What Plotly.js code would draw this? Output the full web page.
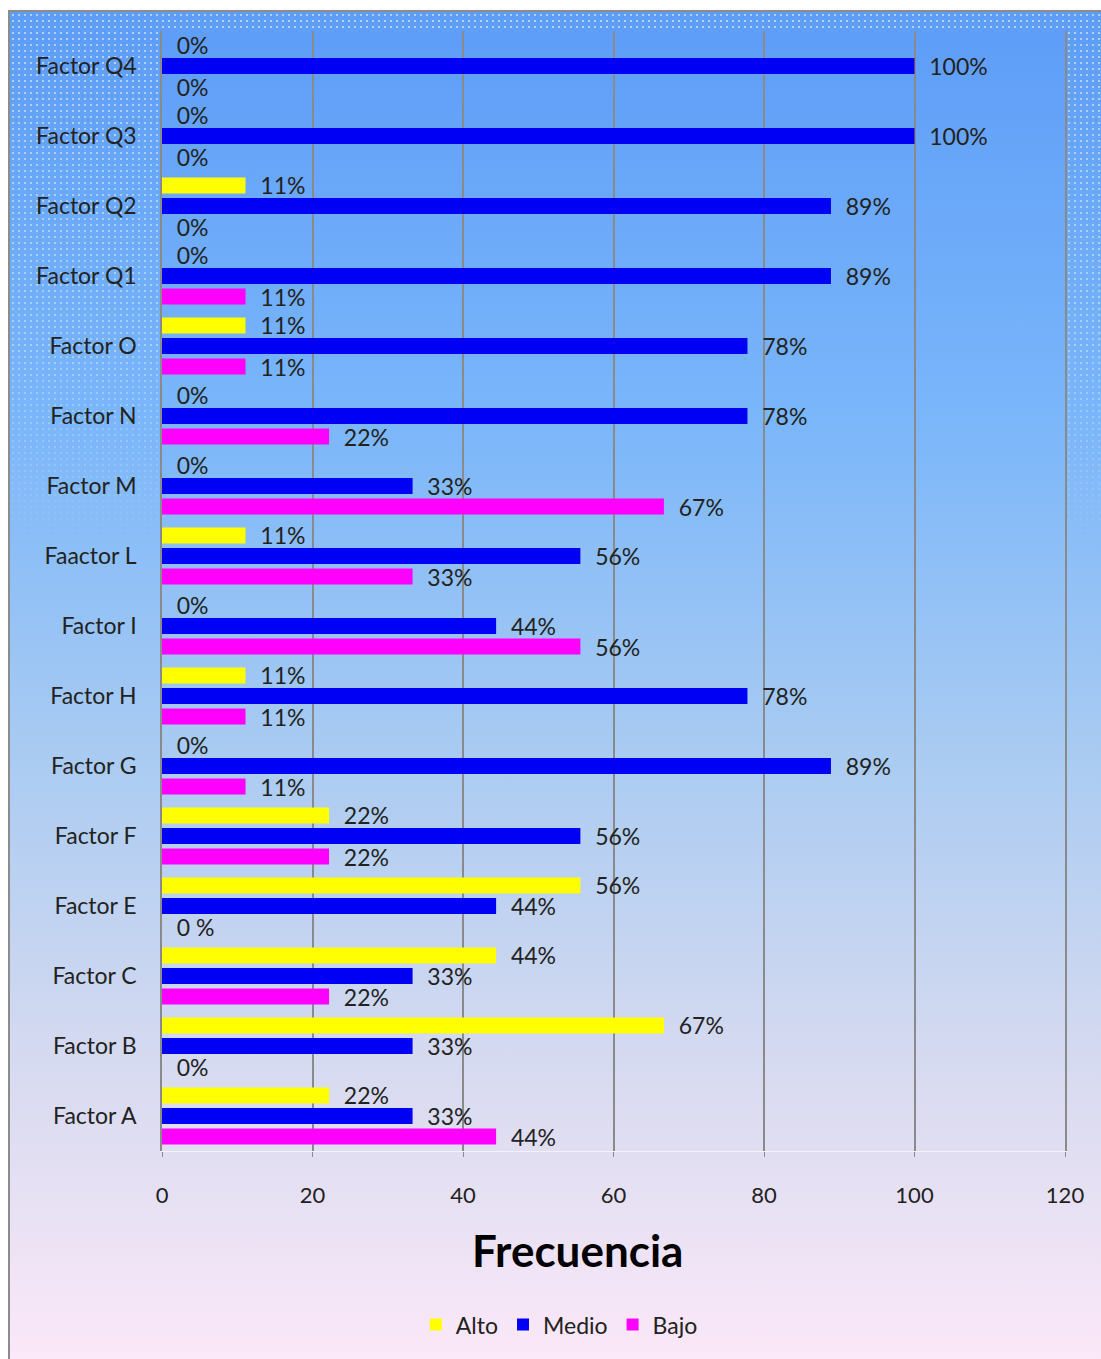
<!DOCTYPE html>
<html>
<head>
<meta charset="utf-8">
<script src="https://cdn.plot.ly/plotly-3.0.1.min.js"></script>
<style>
  html, body { margin: 0; padding: 0; background: #ffffff; }
  #frame {
    position: absolute; left: 8px; top: 10px;
    width: 1093px; height: 1349px;
    border-left: 2px solid #8c8c8c; border-top: 2px solid #8c8c8c;
    box-sizing: border-box;
    background: linear-gradient(to bottom, #5d9cf8 0%, #7ab6fa 30%, #a9cbf2 55%, #d6daf0 78%, #fbe8f8 100%);
    overflow: hidden;
  }
  #dots {
    position: absolute; left: 0; top: 0; width: 100%; height: 100%;
    background-image: radial-gradient(circle, rgba(255,255,255,0.55) 0.7px, transparent 1px);
    background-size: 6px 6px;
    -webkit-mask-image: linear-gradient(to bottom, #000 0%, rgba(0,0,0,0.7) 25%, transparent 40%);
    mask-image: linear-gradient(to bottom, #000 0%, rgba(0,0,0,0.7) 25%, transparent 40%);
  }
  #plotbg {
    position: absolute; left: 152px; top: 19px; width: 903px; height: 1120px;
    background: linear-gradient(to bottom, #5d9cf8 0%, #7ab6fa 30%, #a9cbf2 55%, #d6daf0 78%, #fbe8f8 100%);
    background-size: 1091px 1347px;
    background-position: -152px -19px;
  }
  #chart { position: absolute; left: 0; top: 0; }
</style>
</head>
<body>
<div id="frame">
  <div id="dots"></div>
  <div id="plotbg"></div>
  <div id="chart"></div>
</div>
<script>
    // Categorías (de abajo hacia arriba)
    const factores = ['Factor A', 'Factor B', 'Factor C', 'Factor E', 'Factor F', 'Factor G', 'Factor H',
        'Factor I', 'Faactor L', 'Factor M', 'Factor N', 'Factor O', 'Factor Q1', 'Factor Q2', 'Factor Q3', 'Factor Q4'];

    // Valores en porcentaje
    const alto  = [22.2, 66.7, 44.4, 55.6, 22.2, 0, 11.1, 0, 11.1, 0, 0, 11.1, 0, 11.1, 0, 0];
    const medio = [33.3, 33.3, 33.3, 44.4, 55.6, 88.9, 77.8, 44.4, 55.6, 33.3, 77.8, 77.8, 88.9, 88.9, 100, 100];
    const bajo  = [44.4, 0, 22.2, 0, 22.2, 11.1, 11.1, 55.6, 33.3, 66.7, 22.2, 11.1, 11.1, 0, 0, 0];

    // Etiquetas tal como aparecen
    const altoTxt  = ['22%', '67%', '44%', '56%', '22%', '0%', '11%', '0%', '11%', '0%', '0%', '11%', '0%', '11%', '0%', '0%'];
    const medioTxt = ['33%', '33%', '33%', '44%', '56%', '89%', '78%', '44%', '56%', '33%', '78%', '78%', '89%', '89%', '100%', '100%'];
    const bajoTxt  = ['44%', '0%', '22%', '0 %', '22%', '11%', '11%', '56%', '33%', '67%', '22%', '11%', '11%', '0%', '0%', '0%'];

    const fuente = 'Lato, "Open Sans", sans-serif';
    const pad = s => '\u00a0\u00a0' + s;

    function serie(nombre, valores, textos, color) {
        return {
            type: 'bar',
            orientation: 'h',
            name: nombre,
            y: factores,
            x: valores,
            text: textos.map(pad),
            textposition: 'outside',
            constraintext: 'none',
            cliponaxis: false,
            textfont: { family: fuente, size: 23, color: '#222222' },
            marker: { color: color, line: { width: 0 } },
            hoverinfo: 'x+y+name'
        };
    }

    // Bajo primero para que quede abajo en cada grupo
    const data = [
        serie('Bajo', bajo, bajoTxt, '#ff00ff'),
        serie('Medio', medio, medioTxt, '#0000f5'),
        serie('Alto', alto, altoTxt, '#ffff00')
    ];

    const layout = {
        width: 1091,
        height: 1347,
        margin: { l: 152, r: 36, t: 19, b: 208 },
        paper_bgcolor: 'rgba(0,0,0,0)',
        plot_bgcolor: 'rgba(0,0,0,0)',
        barmode: 'group',
        bargap: 0.12,
        bargroupgap: 0.22,
        font: { family: fuente, size: 23, color: '#222222' },
        xaxis: {
            range: [0, 120],
            dtick: 20,
            showgrid: true,
            gridcolor: '#8a8a8a',
            gridwidth: 1.5,
            zeroline: false,
            showline: true,
            linecolor: 'rgba(255,255,255,0.6)',
            ticks: 'outside',
            ticklen: 5,
            tickcolor: '#8a8a8a',
            ticklabelstandoff: 20,
            tickfont: { family: fuente, size: 22, color: '#222222' }
        },
        yaxis: {
            type: 'category',
            showline: true,
            mirror: true,
            linecolor: '#8a8a8a',
            linewidth: 1.5,
            showgrid: false,
            ticks: '',
            ticklabelstandoff: 19,
            tickfont: { family: fuente, size: 23, color: '#222222' }
        },
        showlegend: true,
        legend: {
            orientation: 'h',
            traceorder: 'reversed',
            x: 0.44,
            xanchor: 'center',
            y: -0.155,
            yanchor: 'middle',
            itemwidth: 30,
            bgcolor: 'rgba(0,0,0,0)',
            font: { family: fuente, size: 23, color: '#222222' },
            itemclick: false
        },
        annotations: [{
            text: '<b>Frecuencia</b>',
            xref: 'paper', yref: 'paper',
            x: 0.46, y: -0.088,
            xanchor: 'center', yanchor: 'middle',
            showarrow: false,
            font: { family: fuente, size: 44, color: '#000000' }
        }]
    };

    Plotly.newPlot('chart', data, layout, { displayModeBar: false });
</script>
</body>
</html>
